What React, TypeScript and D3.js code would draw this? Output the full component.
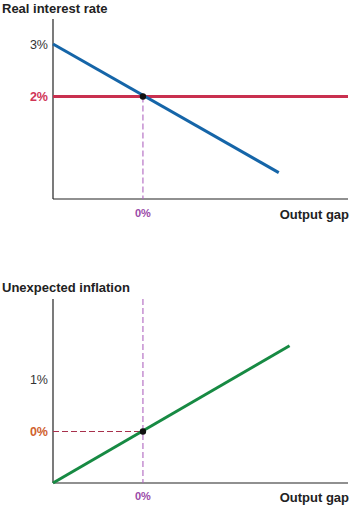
import React from "react";
import * as d3 from "d3";

// Top panel: real interest rate vs output gap
const topTitle = "Real interest rate";
const topYTicks = [3, 2];
const topYTickLabels = ["3%", "2%"];
const blueGap = [-1, 1.51];
const blueRate = [3, 0.55];
const redGap = [-1, 2.28];
const redRate = [2, 2];
const topEq = { gap: 0, rate: 2 };

// Bottom panel: unexpected inflation vs output gap
const bottomTitle = "Unexpected inflation";
const bottomYTicks = [1, 0];
const bottomYTickLabels = ["1%", "0%"];
const greenGap = [-1, 1.63];
const greenInfl = [-0.99, 1.65];
const bottomEq = { gap: 0, infl: 0 };

const xLabel = "Output gap";
const xTickLabel = "0%";

const FONT = "'Liberation Sans', Arial, Helvetica, sans-serif";

export default function App() {
  const W = 356, H = 507;
  const x = d3.scaleLinear().domain([-1, 2.28]).range([53, 348]);

  const yTop = d3.scaleLinear().domain([3, 2]).range([44, 96.5]);
  const yBot = d3.scaleLinear().domain([1, 0]).range([379.5, 431.5]);

  const line = d3.line<[number, number]>();
  const blue = line(blueGap.map((g, i) => [x(g), yTop(blueRate[i])] as [number, number]));
  const red = line(redGap.map((g, i) => [x(g), yTop(redRate[i])] as [number, number]));
  const green = line(greenGap.map((g, i) => [x(g), yBot(greenInfl[i])] as [number, number]));

  const x0 = x(0);
  const topAxisY = 199;
  const botAxisY = 483;

  return (
    <svg width={W} height={H} style={{ position: "absolute", left: 0, top: 0, background: "#fff" }} fontFamily={FONT}>
      {/* Top panel */}
      <text x={2} y={13} fontSize={13} fontWeight="bold" fill="#222">{topTitle}</text>
      <line x1={53} y1={19} x2={53} y2={topAxisY} stroke="#222" strokeWidth={1.2} />
      <line x1={53} y1={topAxisY} x2={348} y2={topAxisY} stroke="#222" strokeWidth={1.2} />
      <line x1={x0} y1={yTop(topEq.rate)} x2={x0} y2={topAxisY} stroke="#b066c0" strokeWidth={1.1} strokeDasharray="6,3" />
      <path d={red ?? ""} stroke="#c9304f" strokeWidth={3.2} fill="none" />
      <path d={blue ?? ""} stroke="#1565a8" strokeWidth={3} fill="none" />
      <circle cx={x(topEq.gap)} cy={yTop(topEq.rate)} r={3.2} fill="#111" />
      {topYTicks.map((t, i) => (
        <text key={t} x={48} y={yTop(t) + 4.5} textAnchor="end" fontSize={12.5}
          fill={i === 1 ? "#d03556" : "#333"} fontWeight={i === 1 ? "bold" : "normal"}>
          {topYTickLabels[i]}
        </text>
      ))}
      <text x={x0} y={217} textAnchor="middle" fontSize={11} fontWeight="bold" fill="#9a4aa8">{xTickLabel}</text>
      <text x={349} y={219} textAnchor="end" fontSize={13} fontWeight="bold" fill="#222">{xLabel}</text>

      {/* Bottom panel */}
      <text x={2} y={292} fontSize={13} fontWeight="bold" fill="#222">{bottomTitle}</text>
      <line x1={53} y1={299} x2={53} y2={botAxisY} stroke="#222" strokeWidth={1.2} />
      <line x1={53} y1={botAxisY} x2={348} y2={botAxisY} stroke="#222" strokeWidth={1.2} />
      <line x1={x0} y1={299} x2={x0} y2={botAxisY} stroke="#b066c0" strokeWidth={1.1} strokeDasharray="6,3" />
      <line x1={53} y1={yBot(bottomEq.infl)} x2={x0} y2={yBot(bottomEq.infl)} stroke="#a8304c" strokeWidth={1.1} strokeDasharray="6,3" />
      <path d={green ?? ""} stroke="#178a43" strokeWidth={3} fill="none" />
      <circle cx={x(bottomEq.gap)} cy={yBot(bottomEq.infl)} r={3.2} fill="#111" />
      {bottomYTicks.map((t, i) => (
        <text key={t} x={48} y={yBot(t) + 4.5} textAnchor="end" fontSize={12.5}
          fill={i === 1 ? "#d0622e" : "#333"} fontWeight={i === 1 ? "bold" : "normal"}>
          {bottomYTickLabels[i]}
        </text>
      ))}
      <text x={x0} y={500} textAnchor="middle" fontSize={11} fontWeight="bold" fill="#9a4aa8">{xTickLabel}</text>
      <text x={349} y={502} textAnchor="end" fontSize={13} fontWeight="bold" fill="#222">{xLabel}</text>
    </svg>
  );
}
